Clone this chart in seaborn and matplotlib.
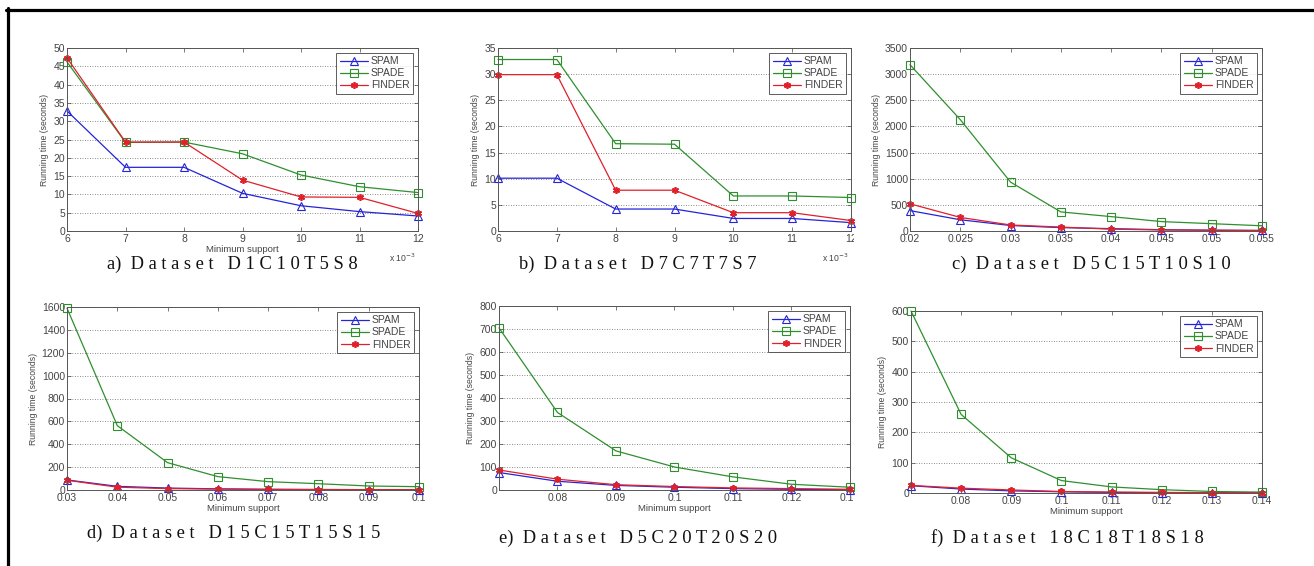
import numpy as np
import pandas as pd
import matplotlib
matplotlib.use("Agg")
import matplotlib.pyplot as plt
from matplotlib.lines import Line2D
from matplotlib.transforms import Bbox
import seaborn as sns

# --- Data (running time in seconds) ---
algos = ["SPAM", "SPADE", "FINDER"]

# a) D1C10T5S8 (support x 10^-3)
a_support = [6, 7, 8, 9, 10, 11, 12]
a_spam = [32.8, 17.4, 17.4, 10.3, 6.9, 5.3, 4.1]
a_spade = [46.2, 24.2, 24.3, 21.1, 15.3, 12.1, 10.5]
a_finder = [47.3, 24.3, 24.3, 13.9, 9.3, 9.2, 4.8]

# b) D7C7T7S7 (support x 10^-3)
b_support = [6, 7, 8, 9, 10, 11, 12]
b_spam = [10.1, 10.1, 4.2, 4.2, 2.4, 2.4, 1.6]
b_spade = [32.8, 32.8, 16.7, 16.6, 6.7, 6.7, 6.4]
b_finder = [29.9, 29.9, 7.8, 7.8, 3.5, 3.5, 2.0]

# c) D5C15T10S10
c_support = [0.02, 0.025, 0.03, 0.035, 0.04, 0.045, 0.05, 0.055]
c_spam = [390, 215, 105, 65, 45, 25, 15, 10]
c_spade = [3180, 2130, 935, 365, 275, 180, 140, 100]
c_finder = [520, 260, 115, 75, 35, 20, 15, 10]

# d) D15C15T15S15
d_support = [0.03, 0.04, 0.05, 0.06, 0.07, 0.08, 0.09, 0.1]
d_spam = [88, 32, 17, 10, 6, 4, 3, 2]
d_spade = [1590, 563, 239, 117, 73, 55, 35, 29]
d_finder = [85, 25, 12, 8, 5, 4, 3, 2]

# e) D5C20T20S20
e_support = [0.07, 0.08, 0.09, 0.1, 0.11, 0.12, 0.13]
e_spam = [76, 38, 20, 12, 6, 3, 1]
e_spade = [705, 337, 170, 100, 57, 25, 12]
e_finder = [87, 47, 23, 15, 9, 6, 3]

# f) 18C18T18S18
f_support = [0.07, 0.08, 0.09, 0.1, 0.11, 0.12, 0.13, 0.14]
f_spam = [24, 13, 7, 4, 2, 1, 0.5, 0.3]
f_spade = [600, 259, 116, 41, 20, 11, 5, 3]
f_finder = [25, 16, 10, 5, 3, 2, 1, 0.5]

captions = [
    "a)  D a t a s e t   D 1 C 1 0 T 5 S 8",
    "b)  D a t a s e t   D 7 C 7 T 7 S 7",
    "c)  D a t a s e t   D 5 C 1 5 T 1 0 S 1 0",
    "d)  D a t a s e t   D 1 5 C 1 5 T 1 5 S 1 5",
    "e)  D a t a s e t   D 5 C 2 0 T 2 0 S 2 0",
    "f)  D a t a s e t   1 8 C 1 8 T 1 8 S 1 8",
]

a_xticks = [6, 7, 8, 9, 10, 11, 12]
a_xlabels = ["6", "7", "8", "9", "10", "11", "12"]
c_xticks = c_support
c_xlabels = ["0.02", "0.025", "0.03", "0.035", "0.04", "0.045", "0.05", "0.055"]
d_xticks = d_support
d_xlabels = ["0.03", "0.04", "0.05", "0.06", "0.07", "0.08", "0.09", "0.1"]
e_xticks = [0.08, 0.09, 0.1, 0.11, 0.12, 0.13]
e_xlabels = ["0.08", "0.09", "0.1", "0.11", "0.12", "0.13"]
f_xticks = [0.08, 0.09, 0.1, 0.11, 0.12, 0.13, 0.14]
f_xlabels = ["0.08", "0.09", "0.1", "0.11", "0.12", "0.13", "0.14"]

# --- Style ---
W, H = 1314, 566
sns.set_theme(style="white")
plt.rcParams["font.family"] = ["Liberation Sans", "DejaVu Sans"]

colors = {"SPAM": "#2424d8", "SPADE": "#2f8f2f", "FINDER": "#e0202a"}
markers = {"SPAM": "^", "SPADE": "s", "FINDER": (6, 2, 0)}
tick_color = "#444444"

fig = plt.figure(figsize=(W / 100, H / 100), dpi=100)
fig.patch.set_facecolor("white")


def px_axes(left, top, right, bottom):
    return fig.add_axes([left / W, 1 - bottom / H, (right - left) / W, (bottom - top) / H])


def draw_panel(ax, support, series, xlim, ylim, yticks, xticks, xlabels,
               xlabel=True, offset=False, clip_right=None):
    for name, vals in zip(algos, series):
        df = pd.DataFrame({"support": support, "time": vals})
        is_star = name == "FINDER"
        sns.lineplot(data=df, x="support", y="time", ax=ax, label=name,
                     color=colors[name], linewidth=0.9,
                     marker=markers[name],
                     markersize=5.5 if not is_star else 5,
                     markerfacecolor="none" if not is_star else colors[name],
                     markeredgecolor=colors[name],
                     markeredgewidth=0.8 if not is_star else 1.2,
                     errorbar=None, sort=False, clip_on=False)
    ax.set_xlim(*xlim)
    ax.set_ylim(*ylim)
    ax.set_yticks(yticks)
    ax.set_yticklabels([str(v) for v in yticks])
    ax.set_xticks(xticks)
    ax.set_xticklabels(xlabels)
    ax.tick_params(direction="in", length=3, width=0.5, top=True, right=True,
                   bottom=True, left=True, labelsize=7.5, colors=tick_color)
    ax.tick_params(axis="x", pad=2.5)
    ax.tick_params(axis="y", pad=1.5)
    ax.yaxis.grid(True, linestyle=(0, (1, 2)), color="#666666", linewidth=0.6)
    ax.xaxis.grid(False)
    for sp in ax.spines.values():
        sp.set_color("#555555")
        sp.set_linewidth(0.7)
    ax.set_ylabel("Running time (seconds)", fontsize=6.2, color=tick_color, labelpad=3)
    if xlabel:
        ax.set_xlabel("Minimum support", fontsize=6.8, color=tick_color, labelpad=0.5)
    else:
        ax.set_xlabel("")
    if offset:
        ax.text(0.955, -0.115, r"x 10$^{-3}$", transform=ax.transAxes,
                fontsize=6.2, color=tick_color, ha="center", va="top")
    leg = ax.legend(loc="upper right", fontsize=7.5, frameon=True, fancybox=False,
                    borderaxespad=0.45, handlelength=2.7, handletextpad=0.3,
                    labelspacing=0.2, borderpad=0.35)
    leg.get_frame().set_edgecolor("#333333")
    leg.get_frame().set_linewidth(0.7)
    for t in leg.get_texts():
        t.set_color(tick_color)
    if clip_right is not None:
        box = Bbox.from_extents(0, 0, clip_right, H)
        for lab in ax.get_xticklabels():
            lab.set_clip_box(box)
            lab.set_clip_on(True)


ax_a = px_axes(67, 48, 418, 231)
draw_panel(ax_a, a_support, [a_spam, a_spade, a_finder], (6, 12), (0, 50),
           list(range(0, 51, 5)), a_xticks, a_xlabels, xlabel=True, offset=True)

ax_b = px_axes(498, 48, 851, 231)
draw_panel(ax_b, b_support, [b_spam, b_spade, b_finder], (6, 12), (0, 35),
           list(range(0, 36, 5)), a_xticks, a_xlabels, xlabel=False, offset=True,
           clip_right=854)

ax_c = px_axes(910, 48, 1262, 231)
draw_panel(ax_c, c_support, [c_spam, c_spade, c_finder], (0.02, 0.055), (0, 3500),
           list(range(0, 3501, 500)), c_xticks, c_xlabels, xlabel=False)

ax_d = px_axes(67, 307, 419, 490)
draw_panel(ax_d, d_support, [d_spam, d_spade, d_finder], (0.03, 0.1), (0, 1600),
           list(range(0, 1601, 200)), d_xticks, d_xlabels)

ax_e = px_axes(499, 306, 850, 490)
draw_panel(ax_e, e_support, [e_spam, e_spade, e_finder], (0.07, 0.13), (0, 800),
           list(range(0, 801, 100)), e_xticks, e_xlabels, clip_right=854)

ax_f = px_axes(911, 311, 1262, 493)
draw_panel(ax_f, f_support, [f_spam, f_spade, f_finder], (0.07, 0.14), (0, 600),
           list(range(0, 601, 100)), f_xticks, f_xlabels)

# captions
cap_pos = [(232, 264), (638, 264), (1091, 264), (234, 533), (638, 538), (1067, 538)]
for (cx, cy), txt in zip(cap_pos, captions):
    fig.text(cx / W, 1 - cy / H, txt, ha="center", va="center",
             family=["Liberation Serif", "DejaVu Serif"], fontsize=13.3, color="#111111")

# black frame (top and left edges)
fig.add_artist(Line2D([6 / W, 1], [1 - 9.5 / H, 1 - 9.5 / H], color="black",
                      linewidth=2.3, transform=fig.transFigure))
fig.add_artist(Line2D([7.5 / W, 7.5 / W], [0, 1 - 8 / H], color="black",
                      linewidth=2.3, transform=fig.transFigure))

fig.savefig("out.png", dpi=100, facecolor="white")
